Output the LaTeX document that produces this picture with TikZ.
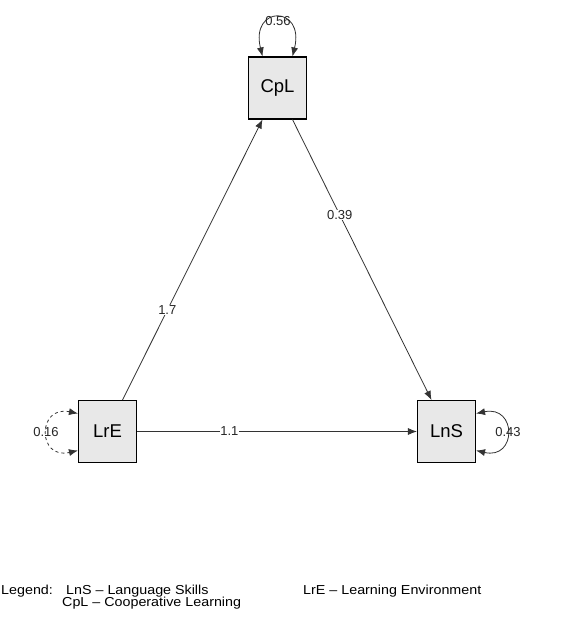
\documentclass[tikz,border=0pt]{standalone}
\usepackage{fontspec}
\setmainfont{Liberation Sans}
\usetikzlibrary{arrows.meta}
\begin{document}
\begin{tikzpicture}[x=1pt,y=-1pt,
  varbox/.style={draw=black,line width=1.1pt,fill=black!9,minimum width=58pt,minimum height=62pt,inner sep=0pt,font=\fontsize{18.5}{20}\selectfont},
  path/.style={draw=black!80,line width=0.8pt,-{Latex[length=9pt,width=7pt]}},
  loopp/.style={draw=black!80,line width=0.8pt,{Latex[length=9pt,width=7pt]}-{Latex[length=9pt,width=7pt]}},
  elabel/.style={fill=white,inner sep=0.5pt,font=\fontsize{13}{14}\selectfont,text=black!85},
  legtext/.style={anchor=base west,inner sep=0pt,font=\fontsize{13}{14}\selectfont,xscale=1.1}]
\useasboundingbox (0,0) rectangle (576,638);
\fill[white] (0,0) rectangle (576,638);
\node[varbox] (CpL) at (277.5,88) {CpL};
\node[varbox] (LrE) at (107.5,431.5) {LrE};
\node[varbox] (LnS) at (446.5,431.5) {LnS};
% paths
\draw[path] ([xshift=15pt]LrE.north) -- node[elabel,pos=0.32] (l17) {1.7} ([xshift=-15pt]CpL.south);
\draw[path] ([xshift=15pt]CpL.south) -- node[elabel,pos=0.34] (l39) {0.39} ([xshift=-15pt]LnS.north);
\draw[path] (LrE.east) -- node[elabel,pos=0.33] (l11) {1.1} (LnS.west);
% self loops
\draw[loopp] ([xshift=-15pt]CpL.north) .. controls (250,5) and (305,5) .. ([xshift=15pt]CpL.north);
\node[elabel,fill=none] (l56) at (278,21) {0.56};
\draw[loopp,dashed] ([yshift=18pt]LrE.west) .. controls (37,405) and (37,460) .. ([yshift=-19pt]LrE.west);
\node[elabel,fill=none] (l16) at (46,432) {0.16};
\draw[loopp] ([yshift=18pt]LnS.east) .. controls (517,405) and (517,460) .. ([yshift=-19pt]LnS.east);
\node[elabel,fill=none] (l43) at (508,432) {0.43};
% legend
\node[legtext] (leg) at (1,594) {Legend:};
\node[legtext] (leg1) at (66,594) {LnS -- Language Skills};
\node[legtext] (leg2) at (62,606) {CpL -- Cooperative Learning};
\node[legtext] (leg3) at (303,594) {LrE -- Learning Environment};
\end{tikzpicture}
\end{document}
